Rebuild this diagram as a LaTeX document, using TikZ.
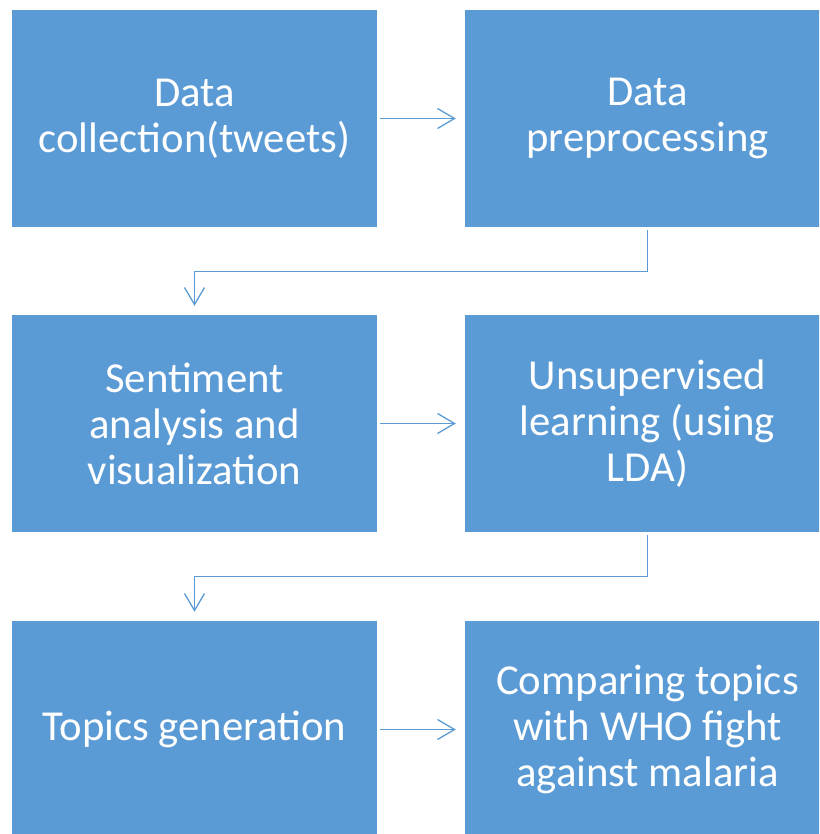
\documentclass[tikz,border=0pt]{standalone}
\usepackage{fontspec}
\setmainfont{Carlito}
\usetikzlibrary{arrows.meta}
\definecolor{officeblue}{HTML}{5B9BD5}
\tikzset{
  stepbox/.style={fill=officeblue, draw=none, minimum width=365pt, minimum height=217pt,
    inner sep=0pt, align=center, text=white, font=\fontsize{42.7}{46}\selectfont},
  arr/.style={draw=officeblue, line width=1.3pt,
    -{Straight Barb[length=17pt,width=20pt,line width=1.3pt]},
    shorten <=3pt, shorten >=9pt}
}
\begin{document}
\begin{tikzpicture}[x={(1pt,0)}, y={(0,-1pt)}]
\useasboundingbox (0,0) rectangle (819,834);
\begin{scope}
\clip (0,0) rectangle (819,834);
\node[stepbox] (a) at (194.5,118.5) {Data\\collection(tweets)};
\node[stepbox] (b) at (647.5,118.5) {Data\\preprocessing};
\node[stepbox] (c) at (194.5,423.5) {Sentiment\\analysis and\\visualization};
\node[stepbox] (d) at (647.5,423.5) {Unsupervised\\learning (using\\LDA)};
\node[stepbox] (e) at (194.5,729.5) {Topics generation};
\node[stepbox] (f) at (647.5,729.5) {Comparing topics\\with WHO fight\\against malaria};
\end{scope}
\draw[arr] (a.east) -- (b.west);
\draw[arr] (c.east) -- (d.west);
\draw[arr] (e.east) -- (f.west);
\draw[arr] (b.south) -- ++(0,44) -| (c.north);
\draw[arr] (d.south) -- ++(0,44) -| (e.north);
\end{tikzpicture}
\end{document}
